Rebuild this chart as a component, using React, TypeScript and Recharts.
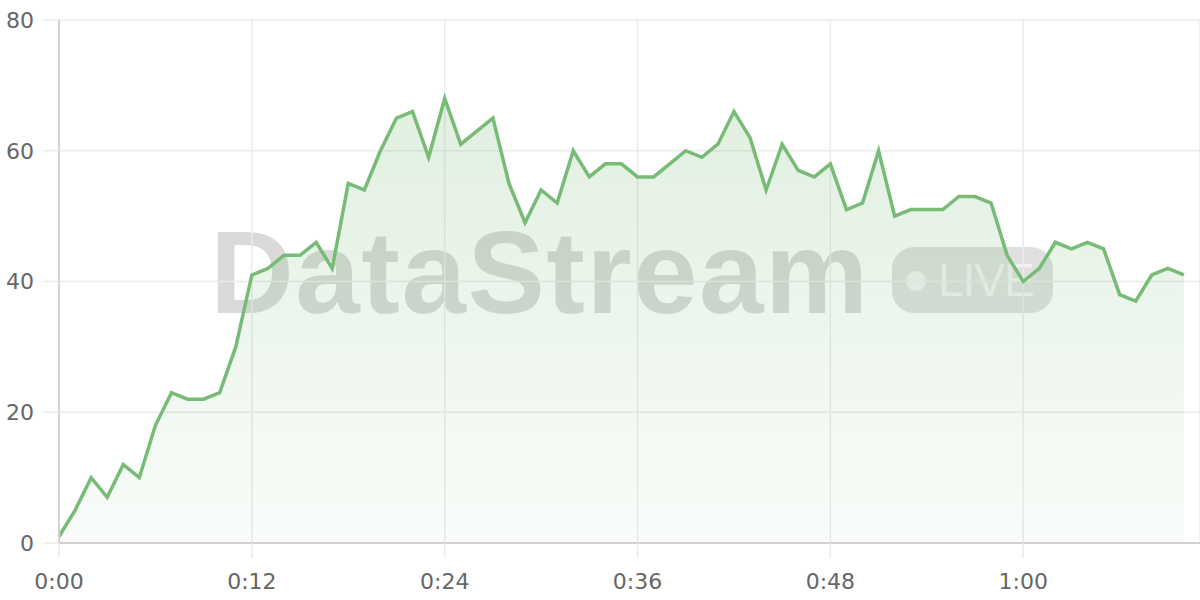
import { AreaChart, Area, XAxis, YAxis, CartesianGrid } from 'recharts';

// viewers per second over the first 70 s of the stream
const VIEWERS = [
  1, 5, 10, 7, 12, 10, 18, 23, 22, 22,
  23, 30, 41, 42, 44, 44, 46, 42, 55, 54,
  60, 65, 66, 59, 68, 61, 63, 65, 55, 49,
  54, 52, 60, 56, 58, 58, 56, 56, 58, 60,
  59, 61, 66, 62, 54, 61, 57, 56, 58, 51,
  52, 60, 50, 51, 51, 51, 53, 53, 52, 44,
  40, 42, 46, 45, 46, 45, 38, 37, 41, 42,
  41,
];

const X_TICKS = [0, 12, 24, 36, 48, 60];
const Y_TICKS = [0, 20, 40, 60, 80];

const LINE_COLOR = '#77bb77';
const TICK_STYLE = { fontFamily: 'DejaVu Sans', fontSize: 22, fill: '#666' };

const formatTime = (t: number) =>
  `${Math.floor(t / 60)}:${String(t % 60).padStart(2, '0')}`;

function Watermark() {
  return (
    <svg
      width={1200}
      height={600}
      style={{ position: 'absolute', left: 0, top: 0 }}
    >
      <text
        x={210}
        y={313}
        fontFamily="Liberation Sans"
        fontWeight={700}
        fontSize={116}
        letterSpacing={1.5}
        fill="rgba(0,0,0,0.15)"
      >
        DataStream
      </text>
      <rect x={892} y={247} width={161} height={66} rx={22} fill="rgba(0,0,0,0.12)" />
      <circle cx={916} cy={281} r={10} fill="rgba(255,255,255,0.6)" />
      <text
        x={938}
        y={296}
        fontFamily="Liberation Sans"
        fontSize={46}
        letterSpacing={-1}
        fill="rgba(255,255,255,0.6)"
      >
        LIVE
      </text>
    </svg>
  );
}

export default function App() {
  const data = VIEWERS.map((v, i) => ({ t: i, viewers: v }));

  return (
    <div
      style={{
        position: 'absolute',
        left: 0,
        top: 0,
        width: 1200,
        height: 600,
        background: '#fff',
      }}
    >
      <Watermark />
      <div style={{ position: 'absolute', left: 0, top: 0 }}>
        <AreaChart
          width={1200}
          height={600}
          data={data}
          margin={{ top: 20, right: 0, bottom: 0, left: 0 }}
        >
          <defs>
            <linearGradient id="viewersFill" x1="0" y1="0" x2="0" y2="1">
              <stop offset="0%" stopColor={LINE_COLOR} stopOpacity={0.38} />
              <stop offset="100%" stopColor={LINE_COLOR} stopOpacity={0.07} />
            </linearGradient>
          </defs>
          <CartesianGrid stroke="#ebebeb" strokeWidth={1.5} />
          <XAxis
            dataKey="t"
            type="number"
            domain={[0, 71]}
            ticks={X_TICKS}
            tickFormatter={formatTime}
            height={57}
            tickSize={15}
            tickMargin={15}
            tick={TICK_STYLE}
            tickLine={{ stroke: '#ebebeb', strokeWidth: 1.5 }}
            axisLine={{ stroke: '#d2d2d2', strokeWidth: 2 }}
          />
          <YAxis
            domain={[0, 80]}
            ticks={Y_TICKS}
            width={59}
            tickSize={16}
            tickMargin={9}
            tick={TICK_STYLE}
            tickLine={{ stroke: '#ebebeb', strokeWidth: 1.5 }}
            axisLine={{ stroke: '#d2d2d2', strokeWidth: 2 }}
          />
          <Area
            type="linear"
            dataKey="viewers"
            stroke={LINE_COLOR}
            strokeWidth={3.5}
            fill="url(#viewersFill)"
            dot={false}
            activeDot={false}
            isAnimationActive={false}
          />
        </AreaChart>
      </div>
    </div>
  );
}
